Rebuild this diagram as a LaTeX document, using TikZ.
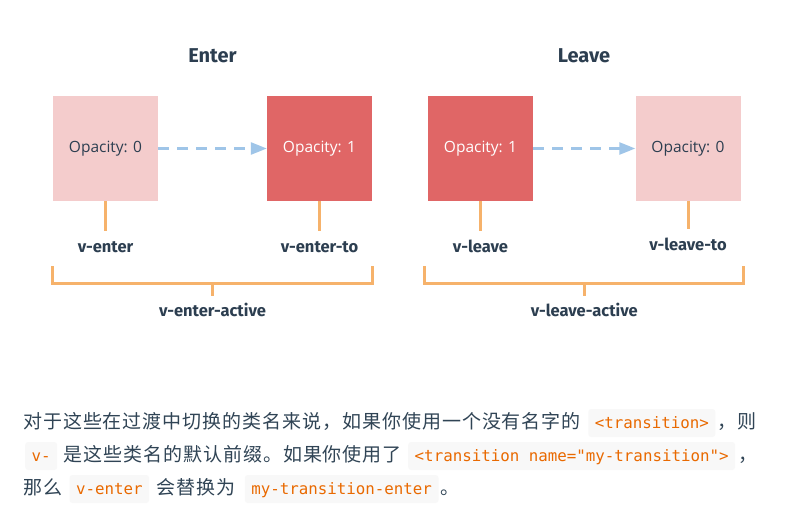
\documentclass[tikz,border=0pt]{standalone}
\usepackage{fontspec}
\setmainfont{Fira Sans}
\setmonofont{DejaVu Sans Mono}
\newfontfamily\opfont{Open Sans}
\newfontfamily\cjkfont{Noto Sans CJK SC}[LetterSpace=5]
\usepackage{tikz}
\usetikzlibrary{arrows.meta, positioning}
\definecolor{vuedark}{HTML}{2C3E50}
\definecolor{paradark}{HTML}{304455}
\definecolor{boxpink}{HTML}{F4CCCC}
\definecolor{boxred}{HTML}{E06666}
\definecolor{arrblue}{HTML}{9FC5E8}
\definecolor{tickorange}{HTML}{F6B26B}
\definecolor{chipgray}{HTML}{F8F8F8}
\definecolor{codeorange}{HTML}{E96900}
\tikzset{
  fadebox/.style={rectangle, fill=boxpink, minimum size=105pt, inner sep=0pt, text=vuedark, font=\opfont\fontsize{15.5}{18}\selectfont},
  fullbox/.style={fadebox, fill=boxred, text=white},
  titlelbl/.style={anchor=base, inner sep=0pt, text=vuedark, font=\bfseries\fontsize{20}{24}\selectfont},
  classlbl/.style={inner sep=0pt, text height=12pt, text depth=0pt, text=vuedark, font=\bfseries\fontsize{16.5}{18}\selectfont},
  tickline/.style={draw=tickorange, line width=3pt},
  fadearr/.style={draw=arrblue, line width=2.5pt, dash pattern=on 11pt off 8pt, -{Triangle[length=16pt, width=12pt]}},
  para/.style={inner sep=0pt, text=paradark, font=\cjkfont\fontsize{19}{22}\selectfont},
  codechip/.style={fill=chipgray, rounded corners=3pt, inner xsep=6.5pt, inner ysep=0pt, text height=19pt, text depth=9pt, text=codeorange, font=\ttfamily\fontsize{15.8}{18}\selectfont},
}
\begin{document}
\begin{tikzpicture}[x=1pt, y=-1pt]
\fill[white] (0,0) rectangle (796,511);
\useasboundingbox (0,0) rectangle (796,511);
% Enter
\node[titlelbl] (enterT) at (212.5,63) {Enter};
\node[fadebox] (e0) at (105.5,148.5) {Opacity: 0};
\node[fullbox] (e1) at (319.5,148.5) {Opacity: 1};
\draw[fadearr] (e0) -- (e1);
\node[classlbl, below=39pt of e0] (ve) {v-enter};
\node[classlbl, below=39pt of e1] (vet) {v-enter-to};
\draw[tickline] (e0.south) -- ([yshift=9pt]ve.north);
\draw[tickline] (e1.south) -- ([yshift=9pt]vet.north);
\coordinate (enterL) at ([yshift=-65pt]e0.south west);
\coordinate (enterR) at ([yshift=-65pt]e1.south east);
\draw[tickline] (enterL) -- ++(0,17) -| (enterR);
\path (enterL) -- (enterR) coordinate[pos=0.5] (enterM);
\draw[tickline] ([yshift=-17pt]enterM) -- ++(0,13) coordinate (enterB);
\node[classlbl, below=8pt of enterB] (vea) {v-enter-active};
% Leave
\node[titlelbl] (leaveT) at (584,63) {Leave};
\node[fullbox] (l1) at (480.5,148.5) {Opacity: 1};
\node[fadebox] (l0) at (688,148.5) {Opacity: 0};
\draw[fadearr] (l1) -- (l0);
\node[classlbl, below=39pt of l1] (vl) {v-leave};
\node[classlbl, below=37pt of l0] (vlt) {v-leave-to};
\draw[tickline] (l1.south) -- ([yshift=9pt]vl.north);
\draw[tickline] (l0.south) -- ([yshift=9pt]vlt.north);
\coordinate (leaveL) at ([xshift=-3pt, yshift=-65pt]l1.south west);
\coordinate (leaveR) at ([xshift=3pt, yshift=-65pt]l0.south east);
\draw[tickline] (leaveL) -- ++(0,17) -| (leaveR);
\path (leaveL) -- (leaveR) coordinate[pos=0.5] (leaveM);
\draw[tickline] ([yshift=-17pt]leaveM) -- ++(0,13) coordinate (leaveB);
\node[classlbl, below=8pt of leaveB] (vla) {v-leave-active};
% text below
\node[para, anchor=base west] (p1) at (23,428) {对于这些在过渡中切换的类名来说，如果你使用一个没有名字的};
\node[codechip, base right=7pt of p1] (c1) {<transition>};
\node[para, base right=2pt of c1] (p1b) {，则};
\node[codechip, anchor=base west] (c2) at (25,461) {v-};
\node[para, base right=6pt of c2] (p2) {是这些类名的默认前缀。如果你使用了};
\node[codechip, base right=6pt of p2] (c3) {<transition name="my-transition">};
\node[para, base right=3pt of c3] (p2b) {，};
\node[para, anchor=base west] (p3) at (23,494) {那么};
\node[codechip, base right=7pt of p3] (c4) {v-enter};
\node[para, base right=7pt of c4] (p3b) {会替换为};
\node[codechip, base right=9pt of p3b] (c5) {my-transition-enter};
\node[para, base right=2pt of c5] (p3c) {。};
\end{tikzpicture}
\end{document}
